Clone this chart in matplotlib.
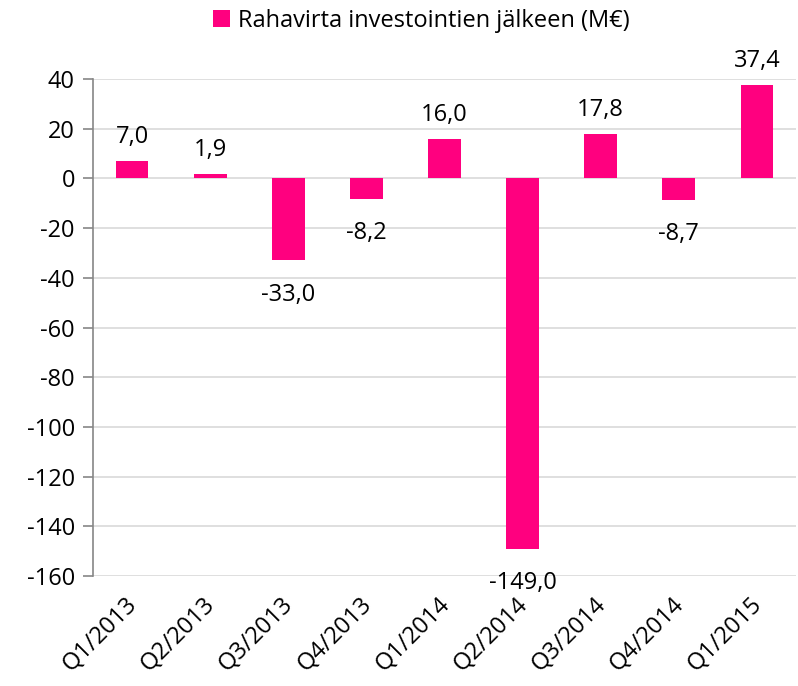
import matplotlib.pyplot as plt
import matplotlib.transforms as mtransforms
import numpy as np

# data
quarters = ["Q1/2013", "Q2/2013", "Q3/2013", "Q4/2013", "Q1/2014",
            "Q2/2014", "Q3/2014", "Q4/2014", "Q1/2015"]
cash_flow = [7.0, 1.9, -33.0, -8.2, 16.0, -149.0, 17.8, -8.7, 37.4]
series_name = "Rahavirta investointien jälkeen (M€)"

plt.rcParams["font.family"] = ["Open Sans", "DejaVu Sans"]
plt.rcParams["axes.unicode_minus"] = False
pink = "#FF007F"
fs = 17

fig = plt.figure(figsize=(7.98, 6.86), dpi=100)
ax = fig.add_axes([0.1165, 0.1603, 0.881, 0.7245])

x = np.arange(len(quarters))
bars = ax.bar(x, cash_flow, width=0.42, color=pink, label=series_name, zorder=3)

# value labels, comma as decimal separator
for xi, v in zip(x, cash_flow):
    label = f"{v:.1f}".replace(".", ",")
    if v >= 0:
        ax.annotate(label, (xi, v), xytext=(0, 13), textcoords="offset points",
                    ha="center", va="baseline", fontsize=fs)
    else:
        ax.annotate(label, (xi, v), xytext=(0, -16), textcoords="offset points",
                    ha="center", va="top", fontsize=fs)

ax.set_xlim(-0.5, len(quarters) - 0.5)
ax.set_ylim(-160, 40)
ax.set_yticks(np.arange(-160, 41, 20))
ax.yaxis.grid(True, color="#D9D9D9", linewidth=1.2, zorder=0)
ax.set_axisbelow(True)

for s in ["top", "right", "bottom"]:
    ax.spines[s].set_visible(False)
ax.spines["left"].set_color("#868686")
ax.spines["left"].set_linewidth(1.2)
ax.tick_params(axis="y", length=7, width=1.2, color="#868686", labelsize=fs, pad=6)
ax.tick_params(axis="x", length=0, labelsize=fs, pad=10)

ax.set_xticks(x)
ax.set_xticklabels(quarters, rotation=45, ha="right", va="top", rotation_mode="anchor")
shift = mtransforms.ScaledTranslation(-0.07, -0.03, fig.dpi_scale_trans)
for lbl in ax.get_xticklabels():
    lbl.set_transform(lbl.get_transform() + shift)

fig.legend(handles=[bars], labels=[series_name], loc="upper center",
           bbox_to_anchor=(0.528, 1.018), frameon=False, fontsize=fs,
           handlelength=0.7, handleheight=0.7, handletextpad=0.35)

fig.savefig("out.png", dpi=100)
